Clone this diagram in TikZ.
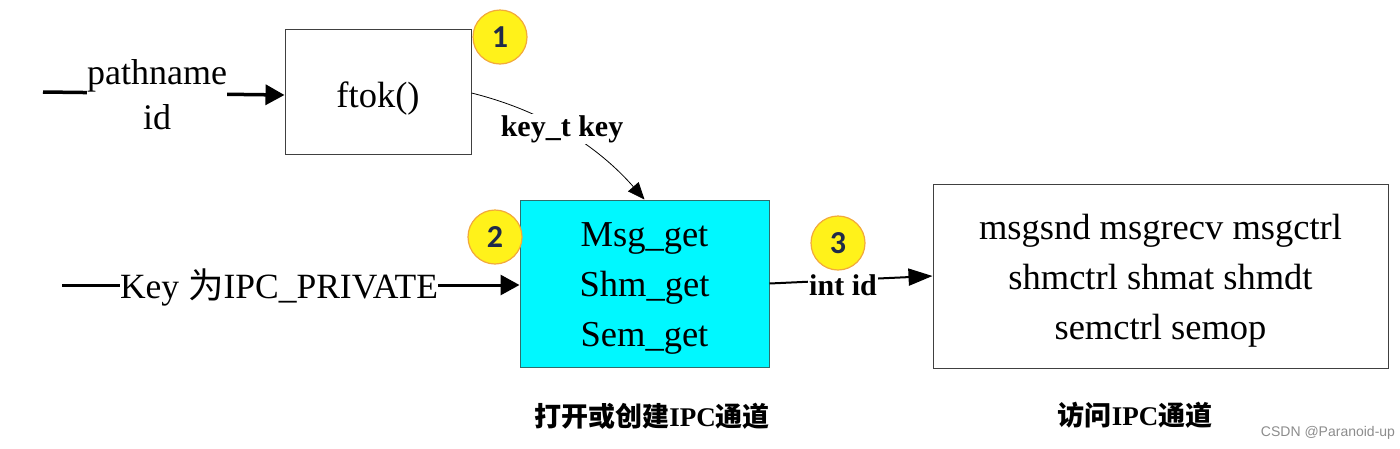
\documentclass[tikz,border=0pt]{standalone}
\usepackage{fontspec}
\setmainfont{Liberation Serif}
\setsansfont{Liberation Sans}
\newfontfamily\cjk{Noto Sans CJK SC}
\newfontfamily\numfont{Carlito}
\usetikzlibrary{arrows.meta}
\definecolor{cyanfill}{HTML}{00F8FF}
\definecolor{cyanedge}{HTML}{2E6E6E}
\definecolor{badgefill}{HTML}{FFF21A}
\definecolor{badgeedge}{HTML}{F2A93B}
\definecolor{badgetext}{HTML}{1F2A4A}
\begin{document}
\begin{tikzpicture}[x=1pt,y=-1pt,
 box/.style={draw=black!75, line width=1pt, inner sep=0pt},
 big/.style={font=\fontsize{36.5}{50}\selectfont},
 badge/.style={circle, fill=badgefill, draw=badgeedge, line width=1.2pt, minimum size=54pt, inner sep=0pt, font=\numfont\bfseries\fontsize{32}{32}\selectfont, text=badgetext},
 heavy/.style={line width=3.5pt, -{Triangle[length=19pt,width=20pt]}},
 lbl/.style={fill=white, inner sep=1pt, font=\bfseries\fontsize{30}{30}\selectfont},
 captxt/.style={font=\fontsize{27}{27}\selectfont},
]
\useasboundingbox (0,0) rectangle (1400,448);
% boxes
\node[box, minimum width=186pt, minimum height=125pt, big] (ftok) at (378,91.5) {\rule{0pt}{40pt}ftok()};
\node[box, draw=cyanedge, fill=cyanfill, minimum width=249pt, minimum height=167pt, big, align=center] (cy) at (644.5,283.5) {\rule{0pt}{33pt}Msg\_get\\Shm\_get\\Sem\_get};
\node[box, minimum width=455pt, minimum height=184pt, big, align=center] (rb) at (1160.5,276) {\rule{0pt}{34pt}msgsnd msgrecv msgctrl\\shmctrl shmat shmdt\\semctrl semop};
% inputs
\coordinate (pin) at (43,92);
\coordinate (kin) at (62,285);
\draw[heavy] (pin) -- ([yshift=-3.5pt]ftok.west);
\node[fill=white, inner sep=0pt, align=center, font=\fontsize{36}{45}\selectfont] (pn) at (157,95) {pathname\\id};
\draw[heavy, line width=3pt] (kin) -- ([yshift=-1.5pt]cy.west);
\node[fill=white, inner sep=0pt, font=\fontsize{35.5}{35.5}\selectfont] (kp) at (279,287) {Key {\cjk 为}IPC\_PRIVATE};
% key_t connector
\draw[line width=0.8pt, -{Triangle[length=17pt,width=14pt]}] ([yshift=-1.5pt]ftok.east) .. controls (560,115) and (610,160) .. (cy.north);
\node[lbl] (kt) at (562,129) {key\_t key};
% int id connector
\draw[line width=2pt, -{Triangle[length=24pt,width=17pt]}] (cy.east) -- (rb.west);
\node[lbl] (ii) at (843,285) {int id};
% badges
\node[badge] (b1) at (500,37) {1};
\node[badge] (b2) at (495,237) {2};
\node[badge] (b3) at (838,243) {3};
% captions
\node[captxt] (c1) at (652,416) {{\cjk\bfseries 打开或创建}\textbf{IPC}{\cjk\bfseries 通道}};
\node[captxt] (c2) at (1135,415) {{\cjk\bfseries 访问}\textbf{IPC}{\cjk\bfseries 通道}};
\node[font=\sffamily\fontsize{14}{14}\selectfont, text=black!45] (wm) at (1328,433) {CSDN @Paranoid-up};
\end{tikzpicture}
\end{document}
